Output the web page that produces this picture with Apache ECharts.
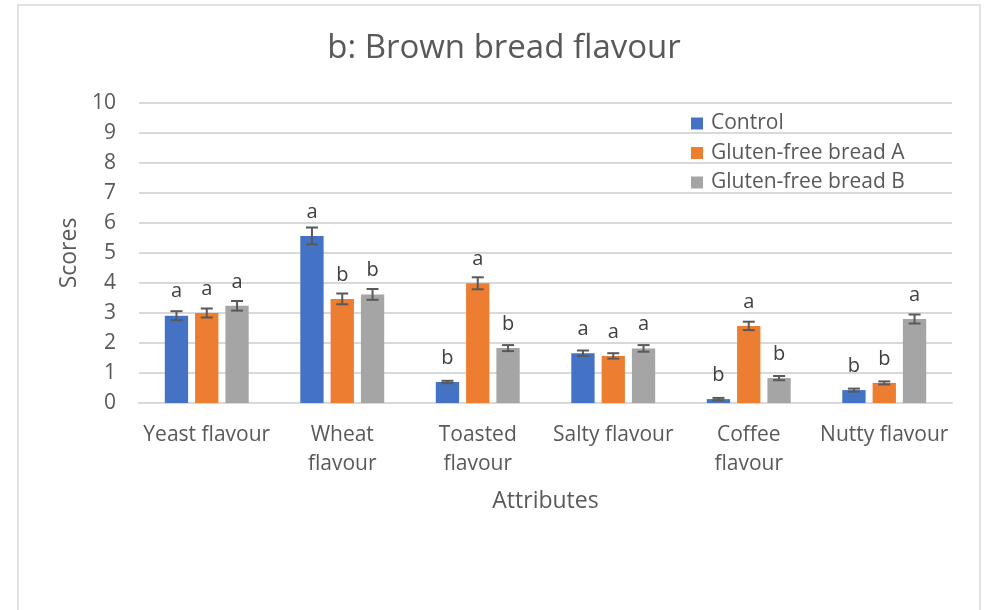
<!DOCTYPE html>
<html>
<head>
<meta charset="utf-8">
<script src="https://cdn.jsdelivr.net/npm/echarts@6/dist/echarts.min.js"></script>
<style>
  html, body { margin: 0; padding: 0; background: #fff; }
  #chart { width: 986px; height: 610px; }
</style>
</head>
<body>
<div id="chart"></div>
<script>
// Sensory attributes (x categories)
const categories = ['Yeast flavour', 'Wheat\nflavour', 'Toasted\nflavour', 'Salty flavour', 'Coffee\nflavour', 'Nutty flavour'];

// Mean scores per bread type
const controlScores = [2.91, 5.57, 0.70, 1.66, 0.13, 0.43];
const breadAScores  = [3.00, 3.47, 3.99, 1.57, 2.57, 0.67];
const breadBScores  = [3.24, 3.62, 1.83, 1.82, 0.83, 2.80];

// Standard errors
const controlErr = [0.15, 0.28, 0.04, 0.09, 0.04, 0.05];
const breadAErr  = [0.15, 0.18, 0.20, 0.09, 0.14, 0.05];
const breadBErr  = [0.16, 0.18, 0.10, 0.11, 0.07, 0.15];

// Significance letters
const controlSig = ['a', 'a', 'b', 'a', 'b', 'b'];
const breadASig  = ['a', 'b', 'a', 'a', 'a', 'b'];
const breadBSig  = ['a', 'b', 'b', 'a', 'b', 'a'];

const seriesNames = ['Control', 'Gluten-free bread A', 'Gluten-free bread B'];
const seriesColors = ['#4472C4', '#ED7D31', '#A5A5A5'];

const scoreSets = [controlScores, breadAScores, breadBScores];
const errSets = [controlErr, breadAErr, breadBErr];
const sigSets = [controlSig, breadASig, breadBSig];

const yTicks = { min: 0, max: 10, interval: 1 };

const FONT = '"Open Sans", "Noto Sans", sans-serif';
const TEXT_COLOR = '#595959';
const BAR_RATIO = 0.172;   // bar width as share of the category band
const GAP_RATIO = 0.30;    // gap between bars as share of bar width

const chart = echarts.init(document.getElementById('chart'));

const barSeries = seriesNames.map((name, s) => ({
  name: name,
  type: 'bar',
  data: scoreSets[s],
  barWidth: (BAR_RATIO * 100) + '%',
  barGap: (GAP_RATIO * 100) + '%',
  itemStyle: { color: seriesColors[s] },
  label: {
    show: true,
    position: 'top',
    distance: 14,
    fontFamily: FONT,
    fontSize: 20,
    color: '#404040',
    formatter: p => sigSets[s][p.dataIndex]
  },
  emphasis: { disabled: true },
  z: 2
}));

// Error bars drawn on top of each bar
const errorSeries = seriesNames.map((name, s) => ({
  type: 'custom',
  name: name + ' error',
  data: scoreSets[s].map((v, i) => [i, v - errSets[s][i], v + errSets[s][i]]),
  encode: { x: 0, y: [1, 2] },
  renderItem: (params, api) => {
    const idx = api.value(0);
    const lo = api.coord([idx, api.value(1)]);
    const hi = api.coord([idx, api.value(2)]);
    const band = api.size([1, 0])[0];
    const barW = band * BAR_RATIO;
    const x = lo[0] + (s - 1) * barW * (1 + GAP_RATIO);
    const cap = 6;
    const style = { stroke: '#595959', lineWidth: 2 };
    return {
      type: 'group',
      children: [
        { type: 'line', shape: { x1: x, y1: lo[1], x2: x, y2: hi[1] }, style },
        { type: 'line', shape: { x1: x - cap, y1: hi[1], x2: x + cap, y2: hi[1] }, style },
        { type: 'line', shape: { x1: x - cap, y1: lo[1], x2: x + cap, y2: lo[1] }, style }
      ]
    };
  },
  silent: true,
  z: 3
}));

chart.setOption({
  animation: false,
  backgroundColor: '#fff',
  graphic: [{
    type: 'rect',
    shape: { x: 18, y: 5, width: 962, height: 640 },
    style: { fill: 'none', stroke: '#d9d9d9', lineWidth: 1.5 },
    silent: true,
    z: -1
  }],
  title: {
    text: 'b: Brown bread flavour',
    left: 499,
    top: 27,
    textAlign: 'center',
    textStyle: { fontFamily: FONT, fontSize: 33, fontWeight: 'normal', color: TEXT_COLOR }
  },
  legend: {
    data: seriesNames,
    orient: 'vertical',
    left: 691,
    top: 113,
    padding: 0,
    itemWidth: 12,
    itemHeight: 12,
    itemGap: 8.5,
    icon: 'rect',
    textStyle: { fontFamily: FONT, fontSize: 21, lineHeight: 20, color: TEXT_COLOR, padding: [0, 0, 0, 3] }
  },
  grid: { left: 139, right: 34, top: 103, bottom: 207 },
  xAxis: {
    type: 'category',
    data: categories,
    name: 'Attributes',
    nameLocation: 'middle',
    nameGap: 86.5,
    nameTextStyle: { fontFamily: FONT, fontSize: 23, color: TEXT_COLOR },
    axisLine: { lineStyle: { color: '#d9d9d9', width: 2 } },
    axisTick: { show: false },
    axisLabel: {
      interval: 0,
      margin: 18,
      lineHeight: 29,
      fontFamily: FONT,
      fontSize: 21,
      color: TEXT_COLOR
    }
  },
  yAxis: {
    type: 'value',
    min: yTicks.min,
    max: yTicks.max,
    interval: yTicks.interval,
    name: 'Scores',
    nameLocation: 'middle',
    nameRotate: 90,
    nameGap: 58.5,
    nameTextStyle: { fontFamily: FONT, fontSize: 23, color: TEXT_COLOR },
    axisLine: { show: false },
    axisTick: { show: false },
    axisLabel: { margin: 23, fontFamily: FONT, fontSize: 21, color: TEXT_COLOR },
    splitLine: { lineStyle: { color: '#d9d9d9', width: 2 } }
  },
  series: [...barSeries, ...errorSeries]
});
</script>
</body>
</html>
